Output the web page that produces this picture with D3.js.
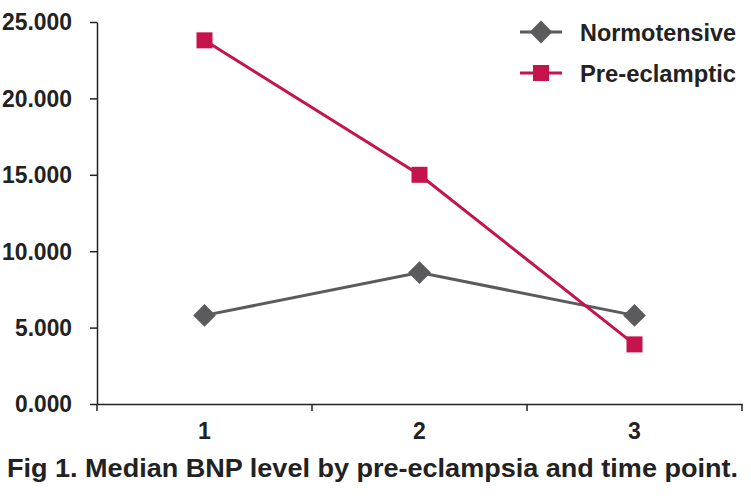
<!DOCTYPE html>
<html><head><meta charset="utf-8">
<script src="https://cdn.jsdelivr.net/npm/d3@7"></script>
<style>body{margin:0;background:#fff}svg{display:block}</style>
</head><body>
<script>
const categories = ["1", "2", "3"];
const normotensive = [5800, 8600, 5800];
const preEclamptic = [23800, 15000, 3900];
const yTicks = [0, 5000, 10000, 15000, 20000, 25000];
const seriesNames = ["Normotensive", "Pre-eclamptic"];
const title = "Fig 1. Median BNP level by pre-eclampsia and time point.";

const W = 751, H = 498;
const svg = d3.select("body").append("svg").attr("width", W).attr("height", H);
const gray = "#5b5b5d", red = "#c5134b";
const font = "Liberation Sans, Arial, Helvetica, sans-serif";
const x = d3.scaleBand().domain(categories).range([97, 742]);
const y = d3.scaleLinear().domain([0, 25000]).range([404, 22]);
const fmt = d => d3.format(".3f")(d / 1000);

const yAxis = svg.append("g").attr("transform", "translate(97,0)")
  .call(d3.axisLeft(y).tickValues(yTicks).tickFormat(fmt).tickSizeOuter(0).tickSizeInner(7).tickPadding(18));
const xAxis = svg.append("g").attr("transform", "translate(0,404)")
  .call(d3.axisBottom(x).tickSize(0).tickPadding(19));
const bounds = [97, 97 + x.bandwidth(), 97 + 2 * x.bandwidth(), 742];
svg.append("g").selectAll("line").data(bounds).join("line")
  .attr("x1", d => d).attr("x2", d => d).attr("y1", 404).attr("y2", 411)
  .attr("stroke", "#222").attr("stroke-width", 1.5);
[yAxis, xAxis].forEach(g => {
  g.selectAll("path,line").attr("stroke", "#222").attr("stroke-width", 1.5);
  g.selectAll("text").attr("fill", "#222").style("font-family", font)
    .style("font-weight", "bold").style("font-size", "23px");
});
yAxis.selectAll("text").attr("dy", "0.34em")
  .attr("textLength", d => d >= 10000 ? 70 : 57).attr("lengthAdjust", "spacingAndGlyphs");
xAxis.selectAll("text").attr("dy", "0.71em");

const cx = d => x(d) + x.bandwidth() / 2;
const line = d3.line().x((d, i) => cx(categories[i])).y(d => y(d));
svg.append("path").datum(normotensive).attr("d", line).attr("fill", "none").attr("stroke", gray).attr("stroke-width", 3);
svg.append("path").datum(preEclamptic).attr("d", line).attr("fill", "none").attr("stroke", red).attr("stroke-width", 3);
const diamond = d3.symbol().type(d3.symbolDiamond2).size(330);
svg.append("g").selectAll("path").data(normotensive).join("path")
  .attr("d", diamond).attr("transform", (d, i) => `translate(${cx(categories[i])},${y(d)})`).attr("fill", gray);
svg.append("g").selectAll("rect").data(preEclamptic).join("rect")
  .attr("x", (d, i) => cx(categories[i]) - 8).attr("y", d => y(d) - 8)
  .attr("width", 16).attr("height", 16).attr("fill", red);

// legend
const leg = svg.append("g");
const ly = [32, 73];
const lw = [156, 156];
[gray, red].forEach((c, i) => {
  leg.append("line").attr("x1", 520).attr("x2", 562).attr("y1", ly[i]).attr("y2", ly[i]).attr("stroke", c).attr("stroke-width", 3);
  if (i === 0) leg.append("path").attr("d", diamond).attr("transform", `translate(541,${ly[i]})`).attr("fill", c);
  else leg.append("rect").attr("x", 533).attr("y", ly[i] - 8).attr("width", 16).attr("height", 16).attr("fill", c);
  leg.append("text").attr("x", 580).attr("y", ly[i]).attr("dy", "0.36em").text(seriesNames[i])
    .attr("textLength", lw[i]).attr("lengthAdjust", "spacingAndGlyphs")
    .attr("fill", "#222").style("font-family", font)
    .style("font-weight", "bold").style("font-size", "24px");
});

svg.append("text").attr("x", 7).attr("y", 477).text(title)
  .attr("textLength", 731).attr("lengthAdjust", "spacingAndGlyphs")
  .attr("fill", "#222").style("font-family", font)
  .style("font-weight", "bold").style("font-size", "26px");
</script>
</body></html>
